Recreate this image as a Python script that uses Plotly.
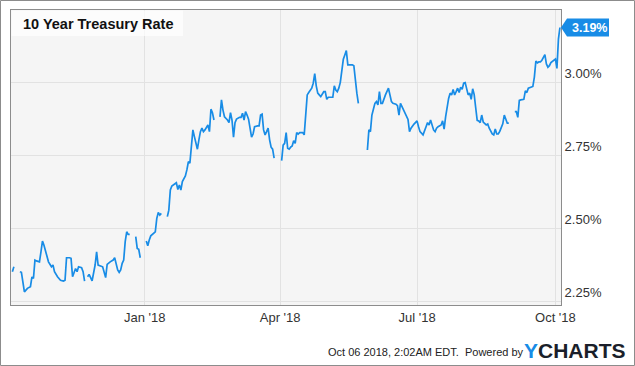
import plotly.graph_objects as go

# ---------------- data ----------------
dates = [
    "2017-10-05", "2017-10-06", "2017-10-09", "2017-10-10", "2017-10-11", "2017-10-13", "2017-10-15",
    "2017-10-17", "2017-10-18", "2017-10-19", "2017-10-20", "2017-10-21", "2017-10-23", "2017-10-24",
    "2017-10-25", "2017-10-26", "2017-10-28", "2017-10-29", "2017-10-31", "2017-11-01", "2017-11-02",
    "2017-11-04", "2017-11-06", "2017-11-08", "2017-11-09", "2017-11-10", "2017-11-12", "2017-11-13",
    "2017-11-14", "2017-11-15", "2017-11-16", "2017-11-17", "2017-11-18", "2017-11-20", "2017-11-21",
    "2017-11-22", "2017-11-23", "2017-11-24", "2017-11-25", "2017-11-26", "2017-11-27", "2017-11-29",
    "2017-11-30", "2017-12-01", "2017-12-03", "2017-12-04", "2017-12-06", "2017-12-07", "2017-12-09",
    "2017-12-11", "2017-12-12", "2017-12-14", "2017-12-15", "2017-12-16", "2017-12-17", "2017-12-18",
    "2017-12-19", "2017-12-20", "2017-12-21", "2017-12-22", "2017-12-25", "2017-12-26", "2017-12-27",
    "2017-12-28", "2017-12-29", "2018-01-01", "2018-01-02", "2018-01-03", "2018-01-04", "2018-01-05",
    "2018-01-08", "2018-01-09", "2018-01-10", "2018-01-11", "2018-01-12", "2018-01-15", "2018-01-16",
    "2018-01-17", "2018-01-18", "2018-01-19", "2018-01-22", "2018-01-23", "2018-01-24", "2018-01-25",
    "2018-01-26", "2018-01-28", "2018-01-29", "2018-01-30", "2018-01-31", "2018-02-02", "2018-02-03",
    "2018-02-04", "2018-02-05", "2018-02-06", "2018-02-07", "2018-02-08", "2018-02-09", "2018-02-10",
    "2018-02-11", "2018-02-12", "2018-02-13", "2018-02-14", "2018-02-15", "2018-02-16", "2018-02-19",
    "2018-02-20", "2018-02-21", "2018-02-22", "2018-02-23", "2018-02-25", "2018-02-26", "2018-02-27",
    "2018-02-28", "2018-03-01", "2018-03-02", "2018-03-03", "2018-03-05", "2018-03-06", "2018-03-07",
    "2018-03-08", "2018-03-09", "2018-03-10", "2018-03-11", "2018-03-12", "2018-03-13", "2018-03-14",
    "2018-03-15", "2018-03-17", "2018-03-18", "2018-03-19", "2018-03-20", "2018-03-21", "2018-03-22",
    "2018-03-23", "2018-03-24", "2018-03-25", "2018-03-26", "2018-03-27", "2018-03-28", "2018-03-30",
    "2018-04-02", "2018-04-03", "2018-04-04", "2018-04-05", "2018-04-06", "2018-04-07", "2018-04-08",
    "2018-04-09", "2018-04-10", "2018-04-11", "2018-04-12", "2018-04-13", "2018-04-14", "2018-04-16",
    "2018-04-17", "2018-04-18", "2018-04-19", "2018-04-20", "2018-04-21", "2018-04-22", "2018-04-23",
    "2018-04-24", "2018-04-25", "2018-04-26", "2018-04-27", "2018-04-28", "2018-04-30", "2018-05-01",
    "2018-05-02", "2018-05-03", "2018-05-04", "2018-05-06", "2018-05-07", "2018-05-08", "2018-05-09",
    "2018-05-10", "2018-05-11", "2018-05-13", "2018-05-14", "2018-05-15", "2018-05-16", "2018-05-17",
    "2018-05-19", "2018-05-20", "2018-05-21", "2018-05-22", "2018-05-23", "2018-05-26", "2018-05-29",
    "2018-05-30", "2018-05-31", "2018-06-01", "2018-06-02", "2018-06-03", "2018-06-04", "2018-06-05",
    "2018-06-06", "2018-06-07", "2018-06-08", "2018-06-09", "2018-06-10", "2018-06-12", "2018-06-13",
    "2018-06-14", "2018-06-15", "2018-06-17", "2018-06-18", "2018-06-19", "2018-06-20", "2018-06-21",
    "2018-06-22", "2018-06-23", "2018-06-24", "2018-06-25", "2018-06-26", "2018-06-27", "2018-06-29",
    "2018-07-01", "2018-07-02", "2018-07-03", "2018-07-05", "2018-07-06", "2018-07-07", "2018-07-08",
    "2018-07-09", "2018-07-10", "2018-07-11", "2018-07-12", "2018-07-13", "2018-07-14", "2018-07-15",
    "2018-07-17", "2018-07-18", "2018-07-19", "2018-07-20", "2018-07-21", "2018-07-22", "2018-07-23",
    "2018-07-24", "2018-07-25", "2018-07-26", "2018-07-27", "2018-07-28", "2018-07-29", "2018-07-30",
    "2018-07-31", "2018-08-01", "2018-08-02", "2018-08-03", "2018-08-04", "2018-08-05", "2018-08-06",
    "2018-08-07", "2018-08-08", "2018-08-09", "2018-08-10", "2018-08-11", "2018-08-12", "2018-08-13",
    "2018-08-14", "2018-08-16", "2018-08-17", "2018-08-18", "2018-08-20", "2018-08-21", "2018-08-22",
    "2018-08-23", "2018-08-24", "2018-08-25", "2018-08-26", "2018-08-27", "2018-08-28", "2018-08-30",
    "2018-08-31", "2018-09-03", "2018-09-04", "2018-09-05", "2018-09-06", "2018-09-07", "2018-09-08",
    "2018-09-10", "2018-09-11", "2018-09-12", "2018-09-13", "2018-09-14", "2018-09-15", "2018-09-16",
    "2018-09-17", "2018-09-18", "2018-09-19", "2018-09-20", "2018-09-21", "2018-09-22", "2018-09-24",
    "2018-09-25", "2018-09-26", "2018-09-27", "2018-09-28", "2018-10-01", "2018-10-02", "2018-10-03",
    "2018-10-04",
]

rates = [
    2.353, 2.370, None, 2.353, 2.351, 2.284, 2.296,
    2.302, 2.335, 2.330, 2.393, 2.390, 2.387, 2.421,
    2.458, 2.444, 2.410, 2.387, 2.370, 2.376, 2.353,
    2.336, 2.324, 2.321, 2.324, 2.401, 2.401, 2.399,
    2.336, 2.347, 2.364, 2.353, 2.370, 2.367, 2.353,
    2.321, None, 2.336, 2.344, 2.333, 2.322, 2.376,
    2.421, 2.376, 2.373, 2.370, 2.333, 2.378, 2.387,
    2.393, 2.401, 2.359, 2.351, 2.359, 2.382, 2.393,
    2.456, 2.490, 2.481, 2.481, None, 2.473, 2.433,
    2.430, 2.401, None, 2.458, 2.442, 2.462, 2.476,
    2.490, 2.536, 2.556, 2.547, 2.553, None, 2.542,
    2.564, 2.633, 2.647, 2.658, 2.635, 2.650, 2.633,
    2.662, 2.681, 2.702, 2.730, 2.725, 2.839, 2.816,
    2.793, 2.773, 2.805, 2.833, 2.845, 2.833, 2.839,
    2.850, 2.856, 2.833, 2.910, 2.898, 2.873, None,
    2.884, 2.942, 2.907, 2.884, 2.873, 2.864, 2.898,
    2.873, 2.814, 2.864, 2.876, 2.882, 2.882, 2.896,
    2.873, 2.902, 2.890, 2.876, 2.845, 2.814, 2.825,
    2.850, 2.853, 2.853, 2.890, 2.893, 2.839, 2.822,
    2.833, 2.845, 2.805, 2.780, 2.773, 2.742, None,
    2.734, 2.787, 2.793, 2.830, 2.776, 2.773, 2.780,
    2.784, 2.802, 2.793, 2.830, 2.825, 2.830, 2.830,
    2.822, 2.890, 2.959, 2.967, 2.974, 2.982, 2.999,
    3.032, 2.990, 2.965, 2.959, 2.953, 2.970, 2.970,
    2.944, 2.951, 2.951, 2.951, 2.990, 2.976, 2.970,
    2.982, 3.002, 3.081, 3.096, 3.111, 3.062, 3.062,
    3.062, 3.059, 3.000, 2.965, 2.930, None, 2.770,
    2.839, 2.833, 2.890, 2.910, 2.930, 2.936, 2.925,
    2.970, 2.930, 2.930, 2.948, 2.959, 2.982, 2.959,
    2.936, 2.930, 2.927, 2.922, 2.890, 2.930, 2.918,
    2.907, 2.898, 2.884, 2.875, 2.833, 2.845, 2.859,
    2.870, 2.850, 2.833, 2.822, 2.833, 2.850, 2.864,
    2.856, 2.873, 2.856, 2.839, 2.833, 2.845, 2.850,
    2.856, 2.870, 2.842, 2.884, 2.918, 2.947, 2.965,
    2.959, 2.978, 2.959, 2.970, 2.982, 2.967, 2.985,
    2.978, 2.999, 3.001, 2.974, 2.959, 2.965, 2.944,
    2.980, 2.960, 2.915, 2.872, 2.870, 2.864, 2.890,
    2.866, 2.856, 2.859, 2.845, 2.825, 2.822, 2.842,
    2.825, 2.825, 2.834, 2.845, 2.860, 2.890, 2.862,
    2.862, None, 2.902, 2.902, 2.882, 2.940, 2.942,
    2.944, 2.973, 2.967, 2.982, 2.984, 2.988, 2.988,
    3.020, 3.075, 3.069, 3.072, 3.072, 3.078, 3.097,
    3.065, 3.054, 3.059, 3.070, 3.082, 3.050, 3.150,
    3.190,
]

x_tick_dates = ["2018-01-01", "2018-04-01", "2018-07-01", "2018-10-01"]
x_tick_labels = ["Jan '18", "Apr '18", "Jul '18", "Oct '18"]
y_tick_values = [2.25, 2.50, 2.75, 3.00]
y_tick_labels = ["2.25%", "2.50%", "2.75%", "3.00%"]

title_text = "10 Year Treasury Rate"
footer_text = "Oct 06 2018, 2:02AM EDT.\u00a0 Powered by"

# ---------------- layout constants ----------------
W, H = 635, 366
ML, MR, MT, MB = 11, 74, 10, 61
PW, PH = W - ML - MR, H - MT - MB

X_RANGE = ["2017-10-04 02:00", "2018-10-04 17:00"]
Y_RANGE = [2.239, 3.25]

LINE_BLUE = "#188ce6"
FONT = "Liberation Sans, Arial, sans-serif"


def px_x(p):  # pixel x -> paper x
    return (p - ML) / PW


def px_y(p):  # pixel y (from top) -> paper y
    return (H - MB - p) / PH


fig = go.Figure()
fig.add_trace(go.Scatter(
    x=dates, y=rates, mode="lines", connectgaps=False,
    line=dict(color=LINE_BLUE, width=1.7), hoverinfo="skip", showlegend=False,
))

last_val = [v for v in rates if v is not None][-1]

fig.update_layout(
    width=W, height=H,
    margin=dict(l=ML, r=MR, t=MT, b=MB, pad=0),
    paper_bgcolor="white", plot_bgcolor="#f5f5f5",
    font=dict(family=FONT, color="#333333", size=13),
    showlegend=False,
    xaxis=dict(
        type="date", range=X_RANGE, tickmode="array",
        tickvals=x_tick_dates, ticktext=x_tick_labels,
        showgrid=True, gridcolor="#e2e2e2", gridwidth=1,
        showline=True, linecolor="#8c8c8c", linewidth=1, mirror=True,
        ticks="", zeroline=False, tickfont=dict(size=13, color="#333333"),
    ),
    yaxis=dict(
        side="right", range=Y_RANGE, tickmode="array",
        tickvals=y_tick_values, ticktext=y_tick_labels,
        ticklabelposition="outside top",
        showgrid=True, gridcolor="#e2e2e2", gridwidth=1,
        showline=True, linecolor="#8c8c8c", linewidth=1, mirror=True,
        ticks="", zeroline=False, tickfont=dict(size=13, color="#333333"),
    ),
    shapes=[
        # outer frame of the image
        dict(type="rect", xref="paper", yref="paper",
             x0=px_x(0.5), x1=px_x(W - 0.5), y0=px_y(H - 0.5), y1=px_y(0.5),
             line=dict(color="#8c8c8c", width=1), fillcolor="rgba(0,0,0,0)", layer="above"),
        # title box
        dict(type="rect", xref="paper", yref="paper",
             x0=px_x(ML + 0.5), x1=px_x(183), y0=px_y(36), y1=px_y(MT + 0.5),
             line=dict(width=0), fillcolor="rgba(255,255,255,0.7)", layer="above"),
        # last-value tag
        dict(type="path", xref="paper", yref="paper",
             xsizemode="pixel", ysizemode="pixel",
             xanchor=1, yanchor=(last_val - Y_RANGE[0]) / (Y_RANGE[1] - Y_RANGE[0]),
             path="M 0,0 L 6,9 L 48,9 L 48,-9 L 6,-9 Z",
             fillcolor=LINE_BLUE, line=dict(width=0), layer="above"),
    ],
    annotations=[
        dict(text="<b>" + title_text + "</b>", xref="paper", yref="paper",
             x=0, y=1, xanchor="left", yanchor="middle", xshift=10, yshift=-13.5,
             showarrow=False, font=dict(size=14.5, color="#111111", family=FONT)),
        dict(text="<b>%.2f%%</b>" % last_val, xref="paper", yref="y",
             x=1, y=last_val, xanchor="left", yanchor="middle", xshift=9,
             showarrow=False, font=dict(size=12.5, color="white", family=FONT)),
        dict(text=footer_text, xref="paper", yref="paper",
             x=px_x(526), y=px_y(352), xanchor="right", yanchor="middle",
             showarrow=False, font=dict(size=11, color="#222222", family=FONT)),
        dict(text="<b><span style='color:%s'>Y</span>CHARTS</b>" % LINE_BLUE,
             xref="paper", yref="paper",
             x=px_x(522), y=px_y(350), xanchor="left", yanchor="middle",
             showarrow=False, font=dict(size=21, color="#1b1f2a", family=FONT)),
    ],
)

fig.write_html(
    "out.html",
    config={"displayModeBar": False, "staticPlot": True},
    post_script="document.body.style.margin='0';document.body.style.overflow='hidden';",
)
